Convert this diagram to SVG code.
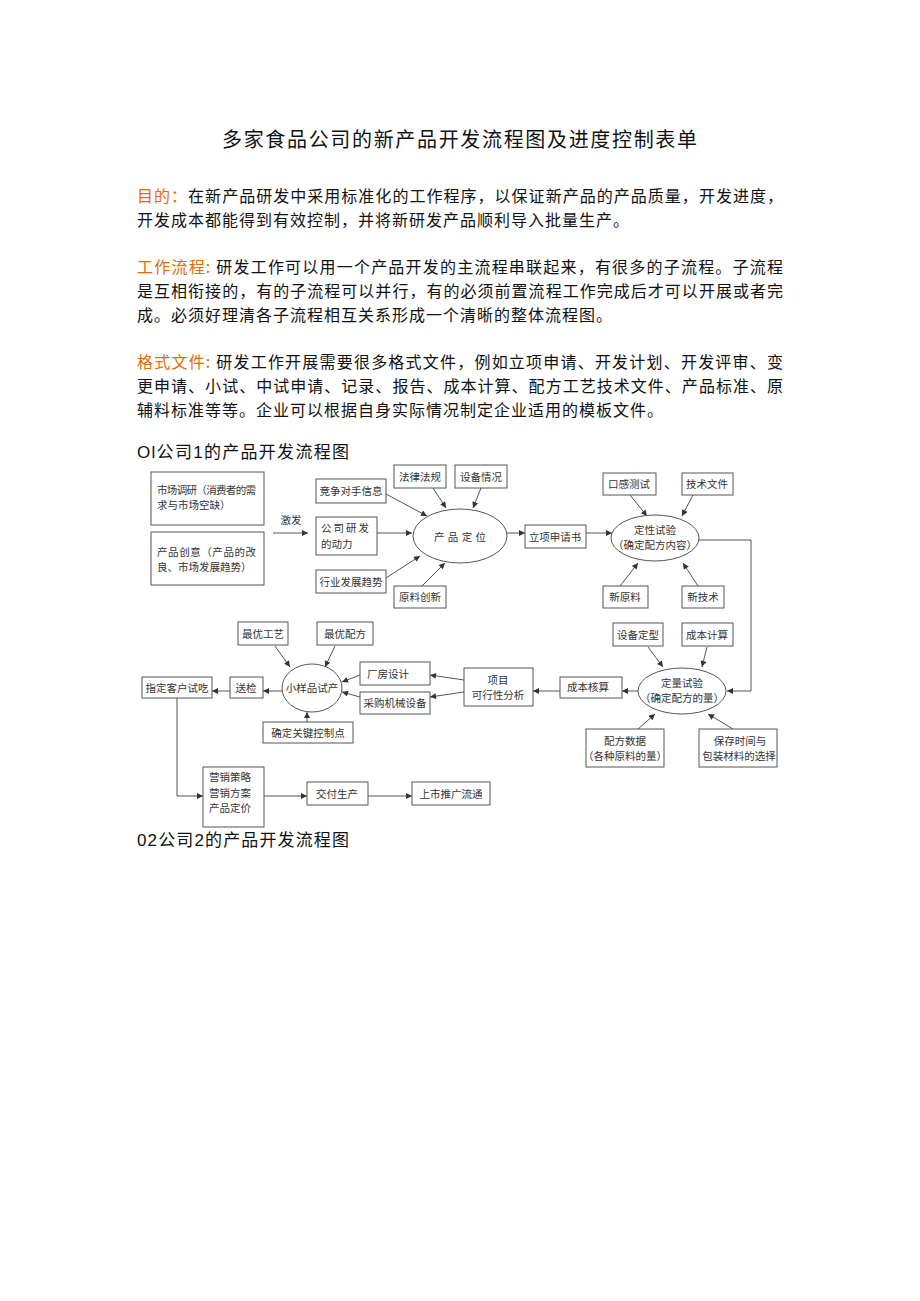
<svg xmlns="http://www.w3.org/2000/svg" width="920" height="1301" viewBox="0 0 920 1301">
<style>
.bg{fill:#fff}
.t{font-family:"Noto Sans CJK SC","Liberation Sans",sans-serif;fill:#111}
.title{font-size:20px}
.p{font-size:16px}
.last{letter-spacing:1px}
.or{fill:#E36C0A}
.h{font-size:17px;fill:#111;font-family:"Liberation Sans","Noto Sans CJK SC",sans-serif}
.n{font-family:"Noto Sans CJK SC","Liberation Sans",sans-serif;font-size:10.5px;fill:#333}
.c{text-anchor:middle}
.box{fill:#fff;stroke:#555;stroke-width:1}
.ell{fill:#fff;stroke:#555;stroke-width:1}
.ln{fill:none;stroke:#555;stroke-width:1}
.ar{fill:none;stroke:#555;stroke-width:1;marker-end:url(#ah)}
</style>
<defs>
<marker id="ah" viewBox="0 0 10 10" refX="10" refY="5" markerWidth="7" markerHeight="6" markerUnits="userSpaceOnUse" orient="auto">
<path d="M0,0 L10,5 L0,10 z" fill="#333"/>
</marker>
</defs>
<rect class="bg" x="0" y="0" width="920" height="1301"/>

<g id="text-block">
<text class="t title" x="222" y="147" textLength="475" lengthAdjust="spacing">多家食品公司的新产品开发流程图及进度控制表单</text>
<text class="t p" x="137" y="202" textLength="646" lengthAdjust="spacing"><tspan class="or">目的：</tspan>在新产品研发中采用标准化的工作程序，以保证新产品的产品质量，开发进度，</text>
<text class="t p last" x="137" y="226">开发成本都能得到有效控制，并将新研发产品顺利导入批量生产。</text>
<text class="t p" x="137" y="273" textLength="646" lengthAdjust="spacing"><tspan class="or">工作流程:</tspan> 研发工作可以用一个产品开发的主流程串联起来，有很多的子流程。子流程</text>
<text class="t p" x="137" y="297" textLength="646" lengthAdjust="spacing">是互相衔接的，有的子流程可以并行，有的必须前置流程工作完成后才可以开展或者完</text>
<text class="t p last" x="137" y="321">成。必须好理清各子流程相互关系形成一个清晰的整体流程图。</text>
<text class="t p" x="137" y="368" textLength="646" lengthAdjust="spacing"><tspan class="or">格式文件:</tspan> 研发工作开展需要很多格式文件，例如立项申请、开发计划、开发评审、变</text>
<text class="t p" x="137" y="392" textLength="646" lengthAdjust="spacing">更申请、小试、中试申请、记录、报告、成本计算、配方工艺技术文件、产品标准、原</text>
<text class="t p last" x="137" y="416">辅料标准等等。企业可以根据自身实际情况制定企业适用的模板文件。</text>
<text class="h" x="137" y="458" textLength="212" lengthAdjust="spacing">Ol公司1的产品开发流程图</text>
<text class="h" x="137" y="846" textLength="212" lengthAdjust="spacing">02公司2的产品开发流程图</text>
</g>

<g id="connectors">
<line class="ar" x1="273" y1="533" x2="308" y2="533"/>
<line class="ar" x1="386" y1="494" x2="427" y2="516"/>
<line class="ar" x1="377" y1="533" x2="412" y2="533"/>
<line class="ar" x1="386" y1="578" x2="420" y2="556"/>
<line class="ar" x1="422" y1="586" x2="445" y2="563"/>
<line class="ar" x1="433" y1="488" x2="446" y2="508"/>
<line class="ar" x1="481" y1="488" x2="473" y2="508"/>
<line class="ar" x1="507" y1="533" x2="525" y2="533"/>
<line class="ar" x1="586" y1="533" x2="612" y2="533"/>
<line class="ar" x1="630" y1="495" x2="647" y2="516"/>
<line class="ar" x1="693" y1="495" x2="682" y2="516"/>
<line class="ar" x1="620" y1="586" x2="638" y2="563"/>
<line class="ar" x1="698" y1="586" x2="683" y2="563"/>
<polyline class="ar" points="699,540 751,540 751,691 727,691"/>
<line class="ar" x1="648" y1="647" x2="663" y2="667"/>
<line class="ar" x1="707" y1="647" x2="702" y2="667"/>
<line class="ar" x1="638" y1="729" x2="655" y2="714"/>
<line class="ar" x1="733" y1="729" x2="708" y2="714"/>
<line class="ar" x1="638" y1="691" x2="622" y2="691"/>
<line class="ar" x1="560" y1="691" x2="533" y2="691"/>
<line class="ar" x1="464" y1="680" x2="430" y2="675"/>
<line class="ar" x1="464" y1="692" x2="430" y2="697"/>
<line class="ar" x1="360" y1="675" x2="342" y2="682"/>
<line class="ar" x1="360" y1="697" x2="342" y2="692"/>
<line class="ar" x1="275" y1="646" x2="290" y2="667"/>
<line class="ar" x1="335" y1="646" x2="325" y2="667"/>
<line class="ar" x1="307" y1="722" x2="307" y2="712"/>
<line class="ar" x1="282" y1="691" x2="263" y2="691"/>
<line class="ar" x1="230" y1="691" x2="212" y2="691"/>
<polyline class="ar" points="177,698 177,796 203,796"/>
<line class="ar" x1="264" y1="796" x2="307" y2="796"/>
<line class="ar" x1="368" y1="796" x2="412" y2="796"/>
<text class="n c" x="291" y="524">激发</text>
</g>

<g id="n-market"><rect class="box" x="151" y="472" width="113" height="53"/>
<text class="n" x="157" y="494" textLength="99" lengthAdjust="spacing">市场调研（消费者的需</text>
<text class="n" x="157" y="509">求与市场空缺）</text></g>
<g id="n-idea"><rect class="box" x="151" y="532" width="113" height="53"/>
<text class="n" x="157" y="556" textLength="99" lengthAdjust="spacing">产品创意（产品的改</text>
<text class="n" x="157" y="571">良、市场发展趋势）</text></g>
<g id="n-compete"><rect class="box" x="316" y="479" width="70" height="24"/>
<text class="n c" x="351" y="495">竞争对手信息</text></g>
<g id="n-drive"><rect class="box" x="316" y="517" width="61" height="38"/>
<text class="n" x="321" y="532" textLength="48" lengthAdjust="spacing">公司研发</text>
<text class="n" x="321" y="548">的动力</text></g>
<g id="n-trend"><rect class="box" x="316" y="570" width="70" height="23"/>
<text class="n c" x="351" y="586">行业发展趋势</text></g>
<g id="n-law"><rect class="box" x="394" y="465" width="52" height="23"/>
<text class="n c" x="420" y="481">法律法规</text></g>
<g id="n-equip"><rect class="box" x="455" y="465" width="52" height="23"/>
<text class="n c" x="481" y="481">设备情况</text></g>
<g id="n-position"><ellipse class="ell" cx="460" cy="536" rx="47" ry="27"/>
<text class="n c" x="460" y="541" textLength="52" lengthAdjust="spacing">产品定位</text></g>
<g id="n-material"><rect class="box" x="394" y="586" width="52" height="22"/>
<text class="n c" x="420" y="601">原料创新</text></g>
<g id="n-proposal"><rect class="box" x="525" y="525" width="61" height="23"/>
<text class="n c" x="555" y="541">立项申请书</text></g>
<g id="n-qual"><ellipse class="ell" cx="655" cy="538" rx="44" ry="23"/>
<text class="n c" x="655" y="534">定性试验</text>
<text class="n c" x="655" y="549">（确定配方内容）</text></g>
<g id="n-taste"><rect class="box" x="603" y="473" width="53" height="22"/>
<text class="n c" x="629" y="488">口感测试</text></g>
<g id="n-techdoc"><rect class="box" x="682" y="473" width="51" height="22"/>
<text class="n c" x="707" y="488">技术文件</text></g>
<g id="n-newmat"><rect class="box" x="603" y="586" width="45" height="22"/>
<text class="n c" x="625" y="601">新原料</text></g>
<g id="n-newtech"><rect class="box" x="682" y="586" width="42" height="22"/>
<text class="n c" x="703" y="601">新技术</text></g>
<g id="n-devtype"><rect class="box" x="613" y="623" width="50" height="23"/>
<text class="n c" x="638" y="639">设备定型</text></g>
<g id="n-costcalc"><rect class="box" x="682" y="623" width="51" height="23"/>
<text class="n c" x="707" y="639">成本计算</text></g>
<g id="n-quant"><ellipse class="ell" cx="682" cy="691" rx="44" ry="23"/>
<text class="n c" x="682" y="687">定量试验</text>
<text class="n c" x="682" y="702">（确定配方的量）</text></g>
<g id="n-formula"><rect class="box" x="586" y="729" width="78" height="38"/>
<text class="n c" x="625" y="745">配方数据</text>
<text class="n c" x="625" y="760">（各种原料的量）</text></g>
<g id="n-shelf"><rect class="box" x="699" y="729" width="78" height="38"/>
<text class="n c" x="740" y="745">保存时间与</text>
<text class="n c" x="739" y="760">包装材料的选择</text></g>
<g id="n-costacc"><rect class="box" x="560" y="677" width="62" height="21"/>
<text class="n c" x="588" y="691">成本核算</text></g>
<g id="n-feas"><rect class="box" x="464" y="668" width="69" height="38"/>
<text class="n c" x="498" y="684">项目</text>
<text class="n c" x="498" y="699">可行性分析</text></g>
<g id="n-plant"><rect class="box" x="360" y="662" width="70" height="23"/>
<text class="n" x="367" y="678">厂房设计</text></g>
<g id="n-purchase"><rect class="box" x="360" y="692" width="70" height="22"/>
<text class="n c" x="395" y="707">采购机械设备</text></g>
<g id="n-bestproc"><rect class="box" x="238" y="622" width="50" height="23"/>
<text class="n c" x="263" y="638">最优工艺</text></g>
<g id="n-bestform"><rect class="box" x="317" y="622" width="56" height="23"/>
<text class="n c" x="345" y="638">最优配方</text></g>
<g id="n-sample"><ellipse class="ell" cx="312" cy="688" rx="30" ry="24"/>
<text class="n c" x="312" y="692">小样品试产</text></g>
<g id="n-ccp"><rect class="box" x="263" y="722" width="90" height="21"/>
<text class="n c" x="308" y="737">确定关键控制点</text></g>
<g id="n-inspect"><rect class="box" x="230" y="677" width="33" height="21"/>
<text class="n c" x="246" y="692">送检</text></g>
<g id="n-taster"><rect class="box" x="142" y="677" width="70" height="21"/>
<text class="n c" x="177" y="692">指定客户试吃</text></g>
<g id="n-marketing"><rect class="box" x="203" y="767" width="61" height="60"/>
<text class="n" x="209" y="781">营销策略</text>
<text class="n" x="209" y="797">营销方案</text>
<text class="n" x="209" y="812">产品定价</text></g>
<g id="n-deliver"><rect class="box" x="307" y="782" width="61" height="23"/>
<text class="n c" x="337" y="798">交付生产</text></g>
<g id="n-launch"><rect class="box" x="412" y="782" width="78" height="23"/>
<text class="n c" x="451" y="798">上市推广流通</text></g>
</svg>
